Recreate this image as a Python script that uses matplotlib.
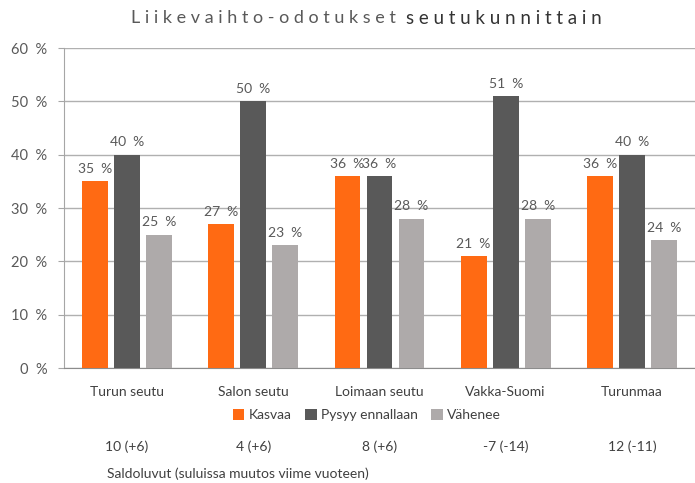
import matplotlib.pyplot as plt
import numpy as np

plt.rcParams["font.family"] = ["Lato", "DejaVu Sans"]

regions = ["Turun seutu", "Salon seutu", "Loimaan seutu", "Vakka-Suomi", "Turunmaa"]
kasvaa = [35, 27, 36, 21, 36]
pysyy = [40, 50, 36, 51, 40]
vahenee = [25, 23, 28, 28, 24]
saldo = ["10 (+6)", "4 (+6)", "8 (+6)", "-7 (-14)", "12 (-11)"]
series_names = ["Kasvaa", "Pysyy ennallaan", "Vähenee"]
colors = ["#FF6A13", "#595959", "#AEAAAA"]

fig = plt.figure(figsize=(6.95, 4.83), dpi=100)
W, H = 695, 483
ax = fig.add_axes([64 / W, 1 - 368 / H, (695 - 64) / W, (368 - 48) / H])

x = np.arange(len(regions))
width = 0.205
offset = 0.254
text_col = "#595959"

for i, (vals, name, col) in enumerate(zip([kasvaa, pysyy, vahenee], series_names, colors)):
    pos = x + (i - 1) * offset
    ax.bar(pos, vals, width=width, color=col, label=name, zorder=3)
    for p, v in zip(pos, vals):
        ax.text(p, v + 1.2, f"{v}  %", ha="center", va="bottom",
                fontsize=10, color=text_col)

ax.set_xlim(-0.5, len(regions) - 0.5)
ax.set_ylim(0, 60)
ax.set_yticks(range(0, 61, 10))
ax.set_yticklabels([f"{t}  %" for t in range(0, 61, 10)], fontsize=10.5, color=text_col)
ax.set_xticks(x)
ax.set_xticklabels(regions, fontsize=10, color="#404040")
ax.tick_params(axis="x", length=0, pad=13)
ax.tick_params(axis="y", length=4, color="#A6A6A6", pad=8)
ax.yaxis.grid(True, color="#B0B0B0", linewidth=1, zorder=0)
for s in ["top", "right"]:
    ax.spines[s].set_visible(False)
ax.spines["left"].set_color("#A6A6A6")
ax.spines["bottom"].set_color("#8C8C8C")

# saldoluvut
for xi, s in zip(x, saldo):
    ax.text(xi, -(447 - 368) / 320, s, transform=ax.get_xaxis_transform(), ha="center",
            va="center", fontsize=10, color="#404040")
fig.text(107 / W, 1 - 474 / H, "Saldoluvut (suluissa muutos viime vuoteen)",
         ha="left", va="center", fontsize=10, color="#404040")

fig.legend(loc="center", bbox_to_anchor=(367 / W, 1 - 415 / H), ncol=3,
           frameon=False, fontsize=10, handlelength=0.8, handleheight=0.8,
           handletextpad=0.3, columnspacing=1.0, labelcolor="#404040")

fig.text(396 / W, 1 - 18 / H, "L i i k e v a i h t o - o d o t u k s e t", ha="right",
         va="center", fontsize=13, color="#595959")
fig.text(406 / W, 1 - 18 / H, "s e u t u k u n n i t t a i n", ha="left",
         va="center", fontsize=13.5, color="#333333")

fig.savefig("out.png", dpi=100)
